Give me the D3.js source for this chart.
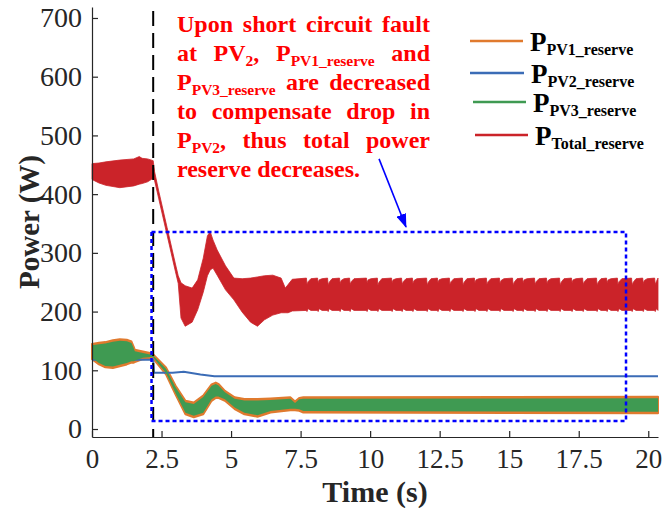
<!DOCTYPE html>
<html>
<head>
<meta charset="utf-8">
<script src="https://cdn.jsdelivr.net/npm/d3@7"></script>
<style>
  html, body { margin: 0; padding: 0; background: #ffffff; }
  svg { display: block; }
  svg text { font-family: "Liberation Serif", "Times New Roman", serif; }
</style>
</head>
<body>
<svg id="chart" width="663" height="508"></svg>
<script>
// ---------- axis ticks ----------
const timeTicks = [0, 2.5, 5, 7.5, 10, 12.5, 15, 17.5, 20];
const timeTickLabels = ["0", "2.5", "5", "7.5", "10", "12.5", "15", "17.5", "20"];
const powerTicks = [0, 100, 200, 300, 400, 500, 600, 700];
const powerTickLabels = ["0", "100", "200", "300", "400", "500", "600", "700"];

// ---------- series ----------
const seriesKeys = ["PV1_reserve", "PV2_reserve", "PV3_reserve", "Total_reserve"];
const seriesColors = ["#e07a2e", "#3b6cb6", "#3f9a52", "#cb2329"];

const faultTime = 2.2;        // short-circuit fault instant (s)
const endTime = 20.35;        // end of the simulation record (s)

// PV1 reserve: oscillation envelope [time (s), lower (W), upper (W)]
const pv1Band = [
  [0, 119, 145], [0.25, 110, 147], [0.48, 105, 148], [0.75, 104, 151],
  [1.0, 107, 153], [1.25, 110, 152], [1.42, 113, 149], [1.5, 113, 140],
  [1.54, 114, 135], [1.83, 119, 132], [2.13, 120, 129], [2.2, 120, 127],
  [2.66, 93, 105], [3.0, 59, 74], [3.36, 25, 48], [3.66, 20, 45],
  [4.0, 25, 57], [4.3, 48, 76], [4.45, 53, 79], [4.54, 53, 77],
  [4.78, 48, 65], [5.13, 34, 54], [5.48, 25, 51], [5.95, 21, 51],
  [6.42, 28, 52], [7.13, 32, 54], [7.3, 32, 47], [7.45, 31, 53],
  [7.6, 28, 54], [20.35, 27, 55]
];

// PV3 reserve: oscillation envelope [time (s), lower (W), upper (W)]
const pv3Band = [
  [0, 121.5, 142.5], [0.25, 112.5, 144.5], [0.48, 107.5, 145.5], [0.75, 106.5, 148.5],
  [1.0, 109.5, 150.5], [1.25, 112.5, 149.5], [1.42, 115.5, 146.5], [1.5, 115.5, 137.5],
  [1.54, 116.5, 132.5], [1.83, 121.5, 129.5], [2.13, 122.5, 126.5], [2.2, 122, 125],
  [2.66, 95.5, 102.5], [3.0, 61.5, 71.5], [3.36, 27.5, 45.5], [3.66, 22.5, 42.5],
  [4.0, 27.5, 54.5], [4.3, 50.5, 73.5], [4.45, 55.5, 76.5], [4.54, 55.5, 74.5],
  [4.78, 50.5, 62.5], [5.13, 36.5, 51.5], [5.48, 27.5, 48.5], [5.95, 23.5, 48.5],
  [6.42, 30.5, 49.5], [7.13, 34.5, 51.5], [7.3, 34.5, 44.5], [7.45, 33.5, 50.5],
  [7.6, 30.5, 51.5], [20.35, 29.5, 52.5]
];

// PV2 reserve: [time (s), power (W)]
const pv2Line = [
  [0, 118], [2.2, 118], [2.23, 96], [2.9, 96], [3.3, 97.5],
  [3.9, 93], [4.4, 90], [20.35, 90]
];

// Total reserve, pre-fault and transient envelope [time (s), lower (W), upper (W)]
const totalBand = [
  [0, 425, 452], [0.25, 419, 453], [0.5, 415, 455], [1.0, 411, 458],
  [1.5, 414, 460], [1.7, 417, 464], [1.8, 418, 461], [2.0, 421, 460], [2.2, 427, 457],
  [2.25, 423, 438], [2.4, 392, 405], [2.7, 330, 343], [3.0, 268, 281],
  [3.1, 248, 261], [3.2, 189, 249], [3.35, 175, 244], [3.6, 182, 240],
  [3.8, 203, 254], [4.0, 233, 291], [4.15, 261, 329], [4.25, 271, 336],
  [4.35, 274, 322], [4.5, 262, 305], [4.8, 237, 278], [5.1, 220, 257],
  [5.4, 199, 256], [5.7, 182, 257], [5.95, 175, 259], [6.2, 186, 261],
  [6.5, 194, 262], [6.8, 198, 257], [6.95, 198, 240], [7.05, 198, 246],
  [7.2, 201, 255]
];
// Total reserve, steady oscillation after 7.2 s
const totalSteadyLow = 202;
const totalSteadyHigh = 257;
// dips of the upper envelope: [time (s), lowest upper value (W)]
const totalDips = [
  [7.73, 246], [8.13, 249], [8.49, 245], [8.92, 248], [9.28, 246], [9.89, 249],
  [10.28, 245], [10.79, 249], [11.15, 246], [11.54, 248], [12.05, 245], [12.44, 249],
  [12.87, 246], [13.34, 245], [13.77, 249], [14.2, 246], [14.67, 248], [15.14, 245],
  [15.5, 249], [15.93, 246], [16.36, 248], [16.83, 245], [17.26, 249], [17.66, 246],
  [18.16, 245], [18.52, 249], [18.91, 246], [19.42, 245], [19.82, 248], [20.25, 246]
];

// highlighted region [t0, t1, P0, P1] and arrow [t, P] -> [t, P]
const focusBox = [2.14, 19.2, 13.6, 335.5];
const arrowFrom = [10.32, 460];
const arrowTo = [11.29, 344];

// annotation: each word is a list of [text, isSubscript] runs
const noteLines = [
  [[["Upon", 0]], [["short", 0]], [["circuit", 0]], [["fault", 0]]],
  [[["at", 0]], [["PV", 0], ["2", 1], [",", 0]], [["P", 0], ["PV1_reserve", 1]], [["and", 0]]],
  [[["P", 0], ["PV3_reserve", 1]], [["are", 0]], [["decreased", 0]]],
  [[["to", 0]], [["compensate", 0]], [["drop", 0]], [["in", 0]]],
  [[["P", 0], ["PV2", 1], [",", 0]], [["thus", 0]], [["total", 0]], [["power", 0]]],
  [[["reserve", 0]], [["decreases.", 0]]]
];

// ---------- scales ----------
const serif = "'Liberation Serif', 'Times New Roman', serif";
const svg = d3.select("#chart");
const x = d3.scaleLinear().domain([0, endTime]).range([92, 658]);
const y = d3.scaleLinear().domain([-13.6, 718.7]).range([437, 7]);
const axisColor = "#262626";

// complete the steady part of the total reserve envelope from the dip list
const totalSteady = [];
totalDips.forEach(([t, dip]) => {
  totalSteady.push([t - 0.02, totalSteadyLow, totalSteadyHigh]);
  totalSteady.push([t, totalSteadyLow - 2, dip]);
  totalSteady.push([t + 0.04, totalSteadyLow + 3, dip + 5]);
  totalSteady.push([t + 0.14, totalSteadyLow, totalSteadyHigh - 1]);
});
const totalAll = totalBand.concat(totalSteady.filter(d => d[0] < endTime))
  .concat([[endTime, totalSteadyLow, totalSteadyHigh]]);

const band = d3.area()
  .x(d => x(d[0]))
  .y0(d => y(d[1]))
  .y1(d => y(d[2]));
const line = d3.line().x(d => x(d[0])).y(d => y(d[1]));

const plot = svg.append("g");

// PV1 (drawn first, its rim stays visible around PV3)
plot.append("path").datum(pv1Band)
  .attr("d", band)
  .attr("fill", seriesColors[0])
  .attr("stroke", seriesColors[0])
  .attr("stroke-width", 2)
  .attr("stroke-linejoin", "round");

// PV2
plot.append("path").datum(pv2Line)
  .attr("d", line)
  .attr("fill", "none")
  .attr("stroke", seriesColors[1])
  .attr("stroke-width", 2);

// PV3
plot.append("path").datum(pv3Band)
  .attr("d", band)
  .attr("fill", seriesColors[2]);

// Total
plot.append("path").datum(totalAll)
  .attr("d", band)
  .attr("fill", seriesColors[3])
  .attr("stroke", seriesColors[3])
  .attr("stroke-width", 0.8);

// ---------- axes ----------
const xAxis = d3.axisBottom(x)
  .tickValues(timeTicks)
  .tickFormat((d, i) => timeTickLabels[i])
  .tickSizeInner(-6).tickSizeOuter(0).tickPadding(12);
const yAxis = d3.axisLeft(y)
  .tickValues(powerTicks)
  .tickFormat((d, i) => powerTickLabels[i])
  .tickSizeInner(-6).tickSizeOuter(0).tickPadding(10);

function styleAxis(g, size) {
  g.attr("font-family", null).attr("font-size", null);
  g.select(".domain").attr("stroke", axisColor).attr("stroke-width", 1.2);
  g.selectAll(".tick line").attr("stroke", axisColor).attr("stroke-width", 1.2);
  g.selectAll(".tick text")
    .attr("fill", axisColor)
    .style("font-size", size + "px")
    .style("font-family", serif);
}
svg.append("g").attr("transform", `translate(0,${y.range()[0]})`).call(xAxis).call(styleAxis, 27);
svg.append("g").attr("transform", `translate(${x.range()[0]},0)`).call(yAxis).call(styleAxis, 28);

// axis titles
svg.append("text")
  .attr("x", (x.range()[0] + x.range()[1]) / 2)
  .attr("y", 502)
  .attr("text-anchor", "middle")
  .style("font-family", serif).style("font-size", "30px").style("font-weight", "bold")
  .attr("fill", axisColor)
  .text("Time (s)");
svg.append("text")
  .attr("transform", `translate(39,${(y.range()[0] + y.range()[1]) / 2}) rotate(-90)`)
  .attr("text-anchor", "middle")
  .style("font-family", serif).style("font-size", "29px").style("font-weight", "bold")
  .attr("fill", axisColor)
  .text("Power (W)");

// ---------- fault instant ----------
svg.append("line")
  .attr("x1", x(faultTime)).attr("x2", x(faultTime))
  .attr("y1", y.range()[1] + 4).attr("y2", y.range()[0])
  .attr("stroke", "#000").attr("stroke-width", 2)
  .attr("stroke-dasharray", "15,7");

// ---------- highlighted region ----------
svg.append("rect")
  .attr("x", x(focusBox[0])).attr("y", y(focusBox[3]))
  .attr("width", x(focusBox[1]) - x(focusBox[0]))
  .attr("height", y(focusBox[2]) - y(focusBox[3]))
  .attr("fill", "none").attr("stroke", "#0000ff")
  .attr("stroke-width", 2.5).attr("stroke-dasharray", "4,3");

// ---------- arrow ----------
svg.append("defs").append("marker")
  .attr("id", "head").attr("markerUnits", "userSpaceOnUse")
  .attr("markerWidth", 14).attr("markerHeight", 10)
  .attr("refX", 13).attr("refY", 5).attr("orient", "auto")
  .append("path").attr("d", "M0,0 L14,5 L0,10 Z").attr("fill", "#0000ff");
svg.append("line")
  .attr("x1", x(arrowFrom[0])).attr("y1", y(arrowFrom[1]))
  .attr("x2", x(arrowTo[0])).attr("y2", y(arrowTo[1]))
  .attr("stroke", "#0000ff").attr("stroke-width", 1.6)
  .attr("marker-end", "url(#head)");

// ---------- annotation (justified block) ----------
const note = svg.append("g").attr("fill", "#ff0000").style("font-weight", "bold");
const noteLeft = 177, noteRight = 430, noteTop = 31.7, noteStep = 29;
const noteSize = 24, noteSubSize = 15.5, noteSubShift = 5;
noteLines.forEach((words, li) => {
  const yb = noteTop + li * noteStep;
  const nodes = words.map(w => {
    const t = note.append("text").attr("y", yb)
      .style("font-family", serif).style("font-size", noteSize + "px");
    let low = false;
    w.forEach(([s, sub]) => {
      const ts = t.append("tspan").text(s);
      if (sub) {
        ts.style("font-size", noteSubSize + "px");
        if (!low) { ts.attr("dy", noteSubShift); low = true; }
      } else if (low) {
        ts.attr("dy", -noteSubShift); low = false;
      }
    });
    return t;
  });
  const widths = nodes.map(n => n.node().getComputedTextLength());
  const last = li === noteLines.length - 1;
  const gap = last ? noteSize * 0.25 : (noteRight - noteLeft - d3.sum(widths)) / (nodes.length - 1);
  let cx = noteLeft;
  nodes.forEach((n, i) => { n.attr("x", cx); cx += widths[i] + gap; });
});

// ---------- legend ----------
const legend = svg.append("g").attr("fill", "#000").style("font-weight", "bold");
const legendRows = [41, 73, 102, 135];
const legendLineX = [[470, 523], [470, 524], [473, 526], [475, 528]];
seriesKeys.forEach((k, i) => {
  const ly = legendRows[i];
  legend.append("line")
    .attr("x1", legendLineX[i][0]).attr("x2", legendLineX[i][1])
    .attr("y1", ly).attr("y2", ly)
    .attr("stroke", seriesColors[i]).attr("stroke-width", 2.5);
  const t = legend.append("text").attr("x", legendLineX[i][1] + 7).attr("y", ly + 10)
    .style("font-family", serif);
  t.append("tspan").style("font-size", "27px").text("P");
  t.append("tspan").style("font-size", "16px").attr("dy", 4).text(k);
});
</script>
</body>
</html>
